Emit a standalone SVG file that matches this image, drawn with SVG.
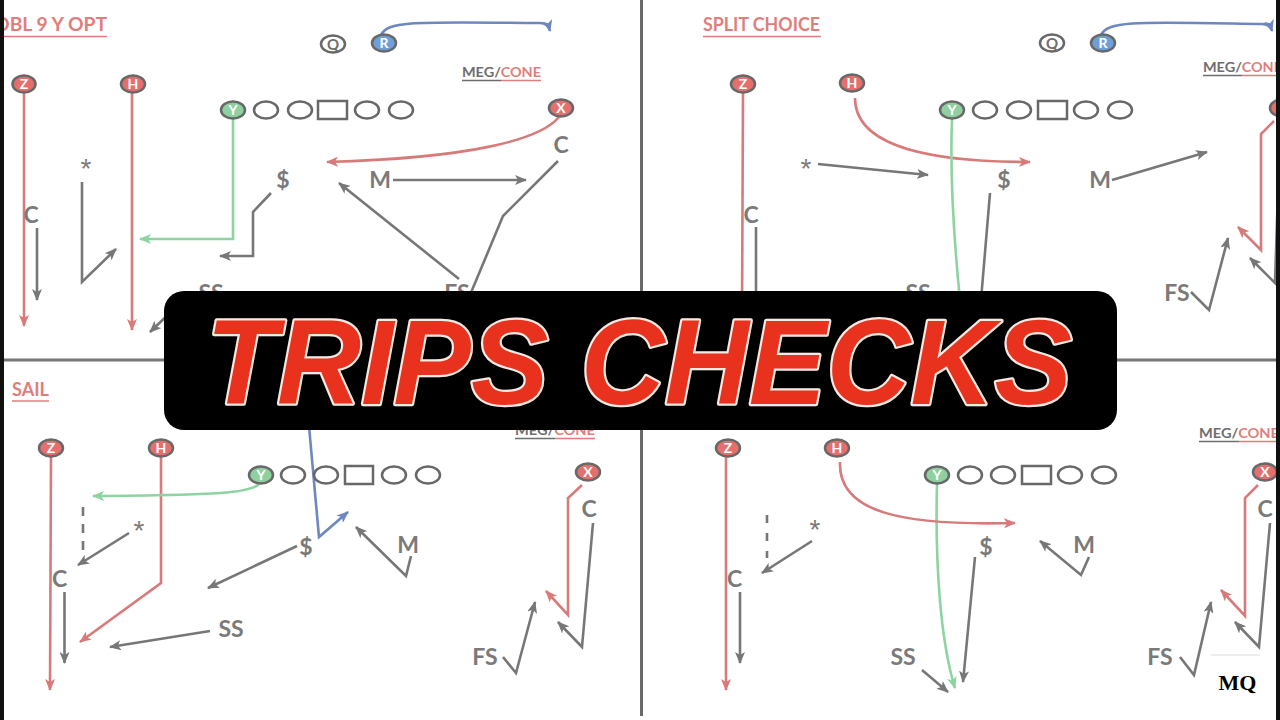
<svg xmlns="http://www.w3.org/2000/svg" width="1280" height="720" viewBox="0 0 1280 720">
<style>
.pr{fill:#e46f6c;stroke:#686868;stroke-width:2.5}
.pg{fill:#8fd0a0;stroke:#686868;stroke-width:2.5}
.pb{fill:#6f9fd6;stroke:#686868;stroke-width:2.5}
.ol{fill:#fff;stroke:#686868;stroke-width:2.5}
.pt{font-family:Lato,"Liberation Sans",sans-serif;font-weight:bold;font-size:14px;fill:#fff;text-anchor:middle}
.qt{font-family:Lato,"Liberation Sans",sans-serif;font-weight:bold;font-size:15px;fill:#6e6e6e;text-anchor:middle}
.lbl{font-family:Lato,"Liberation Sans",sans-serif;font-weight:bold;font-size:23px;fill:#7a7a7a;text-anchor:middle}
.ast{font-family:"Liberation Sans",sans-serif;font-size:28px;fill:#7a7a7a;text-anchor:middle}
.ttl{font-family:Lato,"Liberation Sans",sans-serif;font-weight:bold;font-size:19px;fill:#e07e7c}
.meg{font-family:Lato,"Liberation Sans",sans-serif;font-weight:bold;font-size:14px}
.rr{stroke:#d97a7a;stroke-width:2.6;fill:none}
.rg{stroke:#8ed4a0;stroke-width:2.6;fill:none}
.rb{stroke:#6d87c0;stroke-width:2.6;fill:none}
.rk{stroke:#777;stroke-width:2.6;fill:none}
.ar{marker-end:url(#mr)}
.ag{marker-end:url(#mg)}
.ab{marker-end:url(#mb)}
.ak{marker-end:url(#mk)}
.ul{stroke-width:1.5}
</style>
<defs>
<marker id="mr" markerUnits="userSpaceOnUse" markerWidth="12" markerHeight="10" refX="11" refY="5" orient="auto"><path d="M0,0 L12,5 L0,10 L3,5 z" fill="#d97a7a"/></marker>
<marker id="mg" markerUnits="userSpaceOnUse" markerWidth="12" markerHeight="10" refX="11" refY="5" orient="auto"><path d="M0,0 L12,5 L0,10 L3,5 z" fill="#8ed4a0"/></marker>
<marker id="mb" markerUnits="userSpaceOnUse" markerWidth="12" markerHeight="10" refX="11" refY="5" orient="auto"><path d="M0,0 L12,5 L0,10 L3,5 z" fill="#6d87c0"/></marker>
<marker id="mk" markerUnits="userSpaceOnUse" markerWidth="12" markerHeight="10" refX="11" refY="5" orient="auto"><path d="M0,0 L12,5 L0,10 L3,5 z" fill="#777"/></marker>
</defs>
<rect width="1280" height="720" fill="#fff"/>

<g id="dividers">
<line x1="641.5" y1="0" x2="641.5" y2="716" stroke="#6a6a6a" stroke-width="3"/>
<line x1="4" y1="360" x2="1276" y2="360" stroke="#777" stroke-width="3"/>
</g>

<g id="connectors">
<path class="rb ab" d="M381,35 C388,20 420,22 540,23 Q548,23 550,31"/>
<path class="rr ar" d="M559,117 C540,140 470,158 327,162"/>
<path class="rr ar" d="M24,93 L24,326"/>
<path class="rr ar" d="M132,93 L132,330"/>
<path class="rg ag" d="M233,119 L233,239 L140,239"/>
<path class="rk" d="M558,161 L503,216 L470,295"/>
<path class="rk ak" d="M393,180 L526,180"/>
<path class="rk ak" d="M271,193 L253,212 L253,256 L220,256"/>
<path class="rk ak" d="M459,279 L339,183"/>
<path class="rk ak" d="M82,182 L82,282 L116,249"/>
<path class="rk ak" d="M37,228 L37,300"/>
<path class="rk ak" d="M174,309 L150,332"/>
<path class="rb ab" d="M1101,35 C1108,20 1140,22 1262,24 Q1270,24 1272,31"/>
<path class="rr ar" d="M1274,121 L1261,134 L1261,250 L1238,227"/>
<path class="rk ak" d="M1279,160 L1275,283 L1250,258"/>
<path class="rk ak" d="M1191,292 L1209,310 L1228,238"/>
<path class="rk ak" d="M1112,180 L1207,152"/>
<path class="rk" d="M990,193 L981,300"/>
<path class="rk ak" d="M818,164 L928,175"/>
<path class="rr ar" d="M855,98 C855,150 940,162 1030,162"/>
<path class="rg" d="M952,119 C950,170 953,230 960,300"/>
<path class="rr" d="M743,93 L742,320"/>
<path class="rk" d="M756,227 L756,300"/>
<path class="rb ab" d="M308,415 L319,537 L348,512"/>
<path class="rr ar" d="M582,485 L568,498 L568,615 L546,591"/>
<path class="rk ak" d="M593,523 L582,647 L558,622"/>
<path class="rk ak" d="M503,657 L516,673 L535,602"/>
<path class="rk ak" d="M411,556 L406,576 L356,527"/>
<path class="rk ak" d="M297,546 L208,588"/>
<path class="rk ak" d="M210,631 L110,647"/>
<path class="rk ak" d="M129,533 L78,565"/>
<path class="rk" stroke-dasharray="9 8" d="M83,507 L83,553"/>
<path class="rk ak" d="M64.5,592 L64.5,663"/>
<path class="rr ar" d="M51,457 L50,690"/>
<path class="rr ar" d="M161,457 L161,583 L80,642"/>
<path class="rg ag" d="M259,484 C250,493 220,495 93,496"/>
<path class="rr ar" d="M1258,485 L1245,498 L1245,616 L1221,590"/>
<path class="rk ak" d="M1270,523 L1259,647 L1235,622"/>
<path class="rk ak" d="M1180,657 L1194,675 L1211,602"/>
<path class="rk ak" d="M1089,557 L1081,575 L1040,541"/>
<path class="rk ak" d="M975,557 L963,682"/>
<path class="rk ak" d="M922,670 L948,692"/>
<path class="rg ag" d="M937,484 C935,560 940,640 955,688"/>
<path class="rr ar" d="M840,462 C838,512 900,526 1015,523"/>
<path class="rk ak" d="M812,541 L762,573"/>
<path class="rk" stroke-dasharray="8 10" d="M767,515 L767,558"/>
<path class="rk ak" d="M740,592 L740,663"/>
<path class="rr ar" d="M726,457 L726,690"/>
</g>

<g id="tl-title"><text class="ttl" x="-5" y="31" textLength="112" lengthAdjust="spacingAndGlyphs">DBL 9 Y OPT</text><line class="ul" x1="4" y1="36.5" x2="107" y2="36.5" stroke="#e07e7c"/></g>
<g id="tl-meg"><text class="meg" x="462" y="77" textLength="79" lengthAdjust="spacingAndGlyphs"><tspan fill="#6e6e6e">MEG/</tspan><tspan fill="#e07e7c">CONE</tspan></text><line class="ul" x1="462" y1="80.5" x2="501" y2="80.5" stroke="#6e6e6e"/><line class="ul" x1="501" y1="80.5" x2="541" y2="80.5" stroke="#e07e7c"/></g>
<g id="tl-q"><ellipse class="ol" cx="333" cy="44" rx="12" ry="8.5"/><text class="qt" x="333" y="49.5">Q</text></g>
<g id="tl-r"><ellipse class="pb" cx="384" cy="43" rx="12" ry="8.5"/><text class="pt" x="384" y="48">R</text></g>
<g id="tl-z"><ellipse class="pr" cx="24" cy="84" rx="11.5" ry="8.5"/><text class="pt" x="24" y="89">Z</text></g>
<g id="tl-h"><ellipse class="pr" cx="133" cy="84" rx="12" ry="8.5"/><text class="pt" x="133" y="89">H</text></g>
<g id="tl-y"><ellipse class="pg" cx="233" cy="110" rx="12" ry="8.5"/><text class="pt" x="233" y="115">Y</text></g>
<g id="tl-line"><ellipse class="ol" cx="266" cy="110" rx="12" ry="8.5"/><ellipse class="ol" cx="300" cy="110" rx="12" ry="8.5"/><rect class="ol" x="318" y="101" width="29" height="18"/><ellipse class="ol" cx="367" cy="110" rx="12" ry="8.5"/><ellipse class="ol" cx="401" cy="110" rx="12" ry="8.5"/></g>
<g id="tl-x"><ellipse class="pr" cx="561" cy="108" rx="12" ry="8.5"/><text class="pt" x="561" y="113">X</text></g>
<g id="tl-labels">
<text class="lbl" x="561" y="153">C</text>
<text class="lbl" x="380" y="188">M</text>
<text class="lbl" x="283" y="188">$</text>
<text class="lbl" x="457" y="301">FS</text>
<text class="lbl" x="211" y="301">SS</text>
<text class="ast" x="86" y="178">*</text>
<text class="lbl" x="31" y="223">C</text>
</g>

<g id="tr-title"><text class="ttl" x="703" y="31" textLength="117" lengthAdjust="spacingAndGlyphs">SPLIT CHOICE</text><line class="ul" x1="703" y1="36.5" x2="821" y2="36.5" stroke="#e07e7c"/></g>
<g id="tr-meg"><text class="meg" x="1203" y="72" textLength="79" lengthAdjust="spacingAndGlyphs"><tspan fill="#6e6e6e">MEG/</tspan><tspan fill="#e07e7c">CONE</tspan></text><line class="ul" x1="1203" y1="75.5" x2="1242" y2="75.5" stroke="#6e6e6e"/><line class="ul" x1="1242" y1="75.5" x2="1282" y2="75.5" stroke="#e07e7c"/></g>
<g id="tr-q"><ellipse class="ol" cx="1052" cy="43" rx="12" ry="8.5"/><text class="qt" x="1052" y="48.5">Q</text></g>
<g id="tr-r"><ellipse class="pb" cx="1103" cy="43" rx="12" ry="8.5"/><text class="pt" x="1103" y="48">R</text></g>
<g id="tr-z"><ellipse class="pr" cx="743" cy="84" rx="12" ry="8.5"/><text class="pt" x="743" y="89">Z</text></g>
<g id="tr-h"><ellipse class="pr" cx="852" cy="83" rx="12" ry="8.5"/><text class="pt" x="852" y="88">H</text></g>
<g id="tr-y"><ellipse class="pg" cx="952" cy="110" rx="12" ry="8.5"/><text class="pt" x="952" y="115">Y</text></g>
<g id="tr-line"><ellipse class="ol" cx="985" cy="110" rx="12" ry="8.5"/><ellipse class="ol" cx="1019" cy="110" rx="12" ry="8.5"/><rect class="ol" x="1038" y="101" width="29" height="18"/><ellipse class="ol" cx="1086" cy="110" rx="12" ry="8.5"/><ellipse class="ol" cx="1120" cy="110" rx="12" ry="8.5"/></g>
<g id="tr-x"><ellipse class="pr" cx="1282" cy="108" rx="12" ry="8.5"/><text class="pt" x="1282" y="113">X</text></g>
<g id="tr-labels">
<text class="lbl" x="1284" y="153">C</text>
<text class="lbl" x="1177" y="301">FS</text>
<text class="lbl" x="1100" y="188">M</text>
<text class="lbl" x="1004" y="188">$</text>
<text class="ast" x="806" y="178">*</text>
<text class="lbl" x="751" y="223">C</text>
<text class="lbl" x="918" y="301">SS</text>
</g>

<g id="bl-title"><text class="ttl" x="12" y="396" textLength="37" lengthAdjust="spacingAndGlyphs">SAIL</text><line class="ul" x1="12" y1="401" x2="49" y2="401" stroke="#e07e7c"/></g>
<g id="bl-meg"><text class="meg" x="515" y="435" textLength="80" lengthAdjust="spacingAndGlyphs"><tspan fill="#6e6e6e">MEG/</tspan><tspan fill="#e07e7c">CONE</tspan></text><line class="ul" x1="515" y1="438.5" x2="555" y2="438.5" stroke="#6e6e6e"/><line class="ul" x1="555" y1="438.5" x2="595" y2="438.5" stroke="#e07e7c"/></g>
<g id="bl-z"><ellipse class="pr" cx="51" cy="448" rx="12" ry="8.5"/><text class="pt" x="51" y="453">Z</text></g>
<g id="bl-h"><ellipse class="pr" cx="161" cy="448" rx="12" ry="8.5"/><text class="pt" x="161" y="453">H</text></g>
<g id="bl-y"><ellipse class="pg" cx="261" cy="475" rx="12" ry="8.5"/><text class="pt" x="261" y="480">Y</text></g>
<g id="bl-line"><ellipse class="ol" cx="293" cy="475" rx="12" ry="8.5"/><ellipse class="ol" cx="326" cy="475" rx="12" ry="8.5"/><rect class="ol" x="345" y="466" width="28" height="18"/><ellipse class="ol" cx="394" cy="475" rx="12" ry="8.5"/><ellipse class="ol" cx="428" cy="475" rx="12" ry="8.5"/></g>
<g id="bl-x"><ellipse class="pr" cx="588" cy="472" rx="12" ry="8.5"/><text class="pt" x="588" y="477">X</text></g>
<g id="bl-labels">
<text class="lbl" x="589" y="517">C</text>
<text class="lbl" x="485" y="665">FS</text>
<text class="lbl" x="408" y="553">M</text>
<text class="lbl" x="306" y="555">$</text>
<text class="lbl" x="231" y="637">SS</text>
<text class="ast" x="139" y="540">*</text>
<text class="lbl" x="59.5" y="587">C</text>
</g>

<g id="br-meg"><text class="meg" x="1199" y="438" textLength="80" lengthAdjust="spacingAndGlyphs"><tspan fill="#6e6e6e">MEG/</tspan><tspan fill="#e07e7c">CONE</tspan></text><line class="ul" x1="1199" y1="441.5" x2="1239" y2="441.5" stroke="#6e6e6e"/><line class="ul" x1="1239" y1="441.5" x2="1279" y2="441.5" stroke="#e07e7c"/></g>
<g id="br-z"><ellipse class="pr" cx="728" cy="448" rx="12" ry="8.5"/><text class="pt" x="728" y="453">Z</text></g>
<g id="br-h"><ellipse class="pr" cx="837" cy="448" rx="12" ry="8.5"/><text class="pt" x="837" y="453">H</text></g>
<g id="br-y"><ellipse class="pg" cx="937" cy="475" rx="12" ry="8.5"/><text class="pt" x="937" y="480">Y</text></g>
<g id="br-line"><ellipse class="ol" cx="970" cy="475" rx="12" ry="8.5"/><ellipse class="ol" cx="1003" cy="475" rx="12" ry="8.5"/><rect class="ol" x="1022" y="466" width="29" height="18"/><ellipse class="ol" cx="1070" cy="475" rx="12" ry="8.5"/><ellipse class="ol" cx="1104" cy="475" rx="12" ry="8.5"/></g>
<g id="br-x"><ellipse class="pr" cx="1265" cy="472" rx="12" ry="8.5"/><text class="pt" x="1265" y="477">X</text></g>
<g id="br-labels">
<text class="lbl" x="1265" y="517">C</text>
<text class="lbl" x="1160" y="665">FS</text>
<text class="lbl" x="1084" y="553">M</text>
<text class="lbl" x="986" y="555">$</text>
<text class="lbl" x="903" y="665">SS</text>
<text class="ast" x="815" y="539">*</text>
<text class="lbl" x="734.5" y="587">C</text>
</g>
<g id="watermark"><line x1="1211" y1="655" x2="1260" y2="655" stroke="#ddd" stroke-width="1"/><text x="1237.5" y="690" font-family="Liberation Serif, serif" font-weight="bold" font-size="22" fill="#000" text-anchor="middle">MQ</text></g>

<g id="edges"><rect x="0" y="0" width="4" height="720" fill="#111"/><rect x="1276" y="0" width="4" height="720" fill="#111"/></g>

<g id="banner">
<rect x="164" y="291" width="953" height="139" rx="20" fill="#000"/>
<text x="206" y="404" textLength="866" lengthAdjust="spacingAndGlyphs" font-family="Liberation Sans, Arial, sans-serif" font-weight="bold" font-style="italic" font-size="121" fill="#e8321e" stroke="#f6e8e2" stroke-width="4.5" paint-order="stroke" stroke-linejoin="round">TRIPS CHECKS</text>
</g>
</svg>
